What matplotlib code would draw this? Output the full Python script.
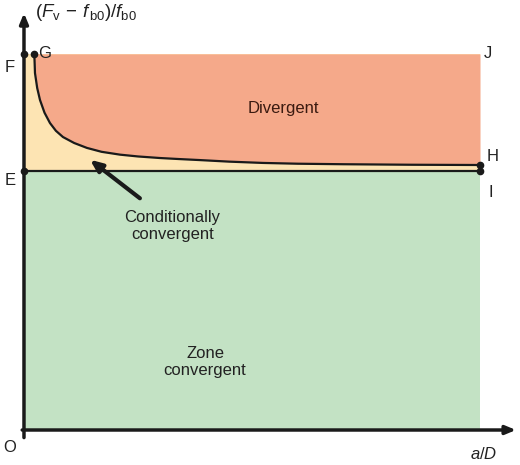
import matplotlib
matplotlib.use('Agg')
from matplotlib import pyplot as plt

plt.rcParams['font.family'] = 'Liberation Sans'
plt.rcParams['mathtext.fontset'] = 'custom'
plt.rcParams['mathtext.rm'] = 'Liberation Sans'
plt.rcParams['mathtext.it'] = 'Liberation Sans:italic'

# boundary levels (normalised, E = 1)
level_E = 1.0
level_F = 1.452
x_end = 1.0

# curve G -> H
curve_x = [0.0226, 0.0235, 0.0241, 0.029, 0.0351, 0.045, 0.057, 0.070, 0.0855, 0.110,
           0.138, 0.170, 0.2105, 0.25, 0.298, 0.34, 0.386, 0.45, 0.524, 0.60, 0.70, 0.85, 1.0]
curve_y = [1.452, 1.41, 1.378, 1.32, 1.274, 1.225, 1.185, 1.155, 1.131, 1.108,
           1.089, 1.074, 1.063, 1.056, 1.050, 1.046, 1.042, 1.036, 1.031, 1.028, 1.026, 1.024, 1.023]

col_div = '#f5a98a'
col_cond = '#fde4b3'
col_conv = '#c3e2c4'

fig = plt.figure(figsize=(5.2, 4.65), dpi=100)
ax = fig.add_axes([0, 0, 1, 1])
ax.set_xlim(-0.0526, 1.0877)
ax.set_ylim(-0.1351, 1.660)
ax.axis('off')

# zones
ax.fill_between([0, x_end], 0, level_E, color=col_conv, lw=0)
ax.fill_between([0, x_end], level_E, level_F, color=col_cond, lw=0)
ax.fill_between(curve_x, curve_y, level_F, color=col_div, lw=0)

# boundaries
ax.plot([0, x_end], [level_E, level_E], color='#1a1a1a', lw=1.6)
ax.plot(curve_x, curve_y, color='#1a1a1a', lw=1.6)
ax.plot([0, curve_x[0], 0, curve_x[-1], x_end], [level_F, curve_y[0], level_E, curve_y[-1], level_E],
        'o', color='#1a1a1a', ms=4.5)

# axes with arrows
ax.annotate('', xy=(0, 1.62), xytext=(0, -0.04),
            arrowprops=dict(arrowstyle='-|>,head_length=0.6,head_width=0.25', color='#1a1a1a', lw=2.5))
ax.annotate('', xy=(1.085, 0), xytext=(-0.01, 0),
            arrowprops=dict(arrowstyle='-|>,head_length=0.6,head_width=0.25', color='#1a1a1a', lw=2.5))

# arrow to the conditional zone
ax.annotate('', xy=(0.140, 1.050), xytext=(0.259, 0.888),
            arrowprops=dict(arrowstyle='-|>,head_length=0.7,head_width=0.3', color='#1a1a1a', lw=3))

fs = 12
tc = '#222222'
ax.text(0.568, 1.243, 'Divergent', fontsize=fs, color='#3a1a10', ha='center', va='center')
ax.text(0.325, 0.788, 'Conditionally\nconvergent', fontsize=fs, color=tc, ha='center', va='center',
        linespacing=1.15)
ax.text(0.397, 0.263, 'Zone\nconvergent', fontsize=fs, color=tc, ha='center', va='center',
        linespacing=1.15)

ax.text(-0.031, 1.398, 'F', fontsize=fs, color=tc, ha='center', va='center')
ax.text(0.030, 1.452, 'G', fontsize=fs, color=tc, ha='left', va='center')
ax.text(-0.031, 0.965, 'E', fontsize=fs, color=tc, ha='center', va='center')
ax.text(1.018, 1.452, 'J', fontsize=fs, color=tc, ha='center', va='center')
ax.text(1.028, 1.054, 'H', fontsize=fs, color=tc, ha='center', va='center')
ax.text(1.024, 0.915, 'I', fontsize=fs, color=tc, ha='center', va='center')
ax.text(-0.031, -0.066, 'O', fontsize=fs, color=tc, ha='center', va='center')
ax.text(1.007, -0.093, '$a$/$D$', fontsize=fs, color=tc, ha='center', va='center')
ax.text(0.024, 1.612, r'$(F_{\mathrm{v}}\,-\,f_{\,\mathrm{b0}})/f_{\mathrm{b0}}$', fontsize=13.5, color=tc,
        ha='left', va='center')

plt.savefig('out.png', dpi=100)
